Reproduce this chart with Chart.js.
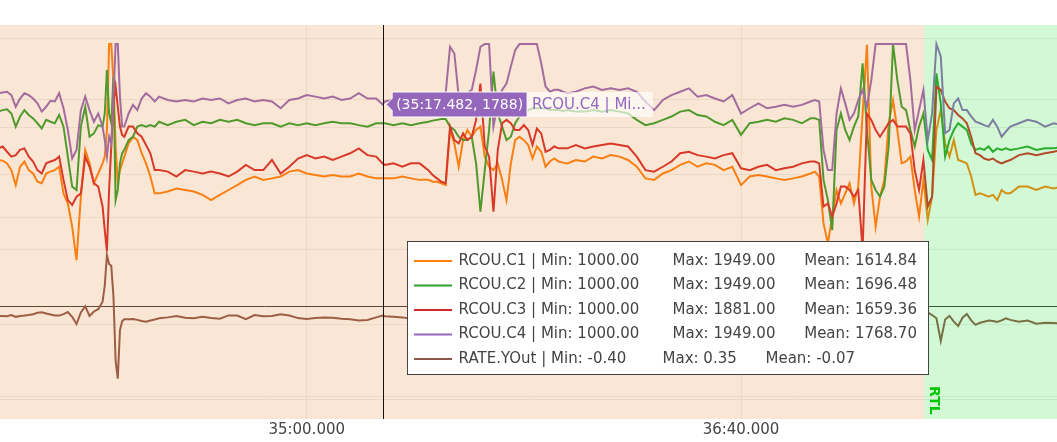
<!DOCTYPE html>
<html><head><meta charset="utf-8">
<script src="https://cdn.jsdelivr.net/npm/chart.js@4.4.1/dist/chart.umd.min.js"></script>
<style>
html,body{margin:0;padding:0;background:#fff;overflow:hidden}
canvas{display:block}
</style></head><body>
<canvas id="c" width="1057" height="442"></canvas>
<script>
// ---- data (time in seconds of log) ----
const times = [
 2029,2030,2031,2032,2033,2034,2035,2036,2037,2038,2039,2040,2041,2042,2043,2044,2045,2046,2047,2048,2049,2050,2051,2052,2053,
 2053.5,2054,2054.5,2055,2055.5,2056,2056.5,2057,2057.5,
 2058,2059,2060,2061,2062,2063,2064,2065,2066,
 2068,2070,2072,2074,2076,2078,2080,2082,2084,2086,2088,2090,
 2092,2094,2096,2098,2100,2102,2104,2106,2108,2110,2112,2114,2116,
 2117.482,
 2118,2120,2122,2124,2126,2128,
 2129,2130,2131,2132,2133,2134,2135,2136,2137,2138,
 2139,2140,2141,2142,2143,2144,2145,2146,2147,2148,
 2149,2150,2151,2152,2153,2154,2155,2156,2157,2158,
 2159,2160,
 2162,2164,2166,2168,2170,2172,2174,2176,2178,2180,
 2182,2184,2186,2188,2190,2192,2194,2196,2198,2200,
 2202,2204,2206,2208,2210,2212,2214,2216,
 2217,2218,2219,2220,2221,2222,2223,2224,2225,2226,
 2227,2228,2229,2230,2231,2232,2233,2234,2235,2236,
 2237,2238,2239,2240,2241,2242,2243,2244,2245,2246,
 2247,2248,2249,2250,2251,2252,2253,2254,2255,2256,
 2257,2258,2259,2260,2261,2262,
 2264,2266,2268,2270,2272,2274
];
const rcouC1 = [
 1640,1638,1631,1613,1573,1622,1636,1613,1604,1582,1578,1604,1609,1613,1622,1551,1524,1462,1373,1542,1667,1631,1578,1604,1631,
 1649,1720,1949,1949,1853,1676,1578,1613,1631,
 1649,1684,1702,1693,1658,1631,1596,1551,1551,
 1556,1564,1560,1556,1547,1533,1547,1560,1573,1587,1596,1587,
 1591,1596,1609,1613,1604,1600,1596,1600,1596,1596,1604,1596,1591,
 1591,
 1591,1591,1596,1591,1587,1587,
 1582,1582,1578,1573,1720,1684,1622,1693,1720,1702,
 1720,1729,1649,1622,1613,1631,1587,1533,1631,1693,
 1702,1693,1680,1644,1676,1662,1622,1636,1644,1636,
 1633,1631,
 1640,1636,1649,1644,1653,1649,1640,1622,1591,1587,
 1604,1613,1627,1636,1622,1631,1627,1613,1622,1573,
 1596,1600,1596,1591,1587,1591,1596,1604,
 1609,1596,1471,1418,1489,1560,1524,1551,1578,1524,
 1569,1764,1947,1569,1462,1542,1587,1738,1800,1720,
 1631,1636,1649,1560,1489,1587,1480,1542,1720,1773,
 1684,1649,1693,1640,1636,1631,1596,1547,1551,1547,
 1542,1547,1533,1560,1551,1551,
 1569,1569,1560,1569,1564,1569
];
const rcouC2 = [
 1769,1773,1775,1764,1729,1756,1773,1760,1751,1738,1724,1747,1742,1738,1760,1729,1649,1569,1560,1729,1782,1702,1711,1733,1729,
 1764,1880,1764,1738,1862,1533,1560,1631,1658,
 1667,1693,1702,1729,1733,1729,1733,1729,1742,
 1733,1742,1747,1733,1742,1738,1747,1742,1747,1738,1733,1738,
 1738,1729,1738,1733,1738,1733,1738,1742,1738,1738,1733,1729,1738,
 1738,
 1738,1733,1738,1733,1738,1742,
 1745,1747,1749,1749,1729,1720,1702,1693,1693,1702,
 1631,1502,1613,1720,1876,1764,1729,1693,1702,1738,
 1756,1769,1773,1778,1778,1778,1778,1773,1773,1773,
 1771,1773,
 1769,1769,1773,1769,1773,1769,1764,1747,1733,1738,
 1747,1756,1769,1773,1760,1756,1742,1733,1747,1707,
 1738,1742,1747,1742,1751,1747,1738,1751,
 1751,1747,1587,1533,1453,1720,1764,1720,1693,1729,
 1756,1898,1720,1587,1560,1542,1569,1676,1949,1853,
 1782,1773,1720,1676,1729,1764,1667,1640,1871,1791,
 1649,1693,1720,1738,1729,1720,1684,1667,1671,1667,
 1676,1662,1671,1667,1671,1667,
 1671,1676,1667,1671,1671,1676
];
const rcouC3 = [
 1671,1676,1662,1649,1653,1667,1671,1649,1636,1613,1604,1631,1636,1640,1649,1587,1533,1520,1542,1551,1649,1622,1578,1569,1516,
 1453,1396,1560,1676,1791,1836,1782,1729,1707,
 1702,1729,1729,1711,1702,1680,1658,1613,1613,
 1609,1596,1613,1609,1604,1609,1604,1596,1609,1627,1613,1613,
 1640,1604,1622,1644,1653,1644,1649,1640,1649,1658,1671,1653,1649,
 1631,
 1627,1631,1622,1631,1631,1613,
 1600,1591,1582,1578,1729,1693,1684,1711,1693,1702,
 1747,1844,1676,1649,1502,1667,1738,1747,1738,1720,
 1720,1733,1720,1680,1724,1711,1662,1667,1676,1671,
 1671,1671,
 1680,1671,1676,1680,1684,1680,1676,1649,1613,1609,
 1622,1636,1658,1662,1653,1649,1644,1653,1658,1618,
 1613,1622,1627,1613,1618,1622,1631,1636,
 1636,1631,1516,1524,1489,1524,1569,1569,1560,1542,
 1560,1400,1764,1747,1720,1702,1720,1738,1747,1729,
 1729,1729,1711,1613,1560,1640,1516,1542,1836,1827,
 1796,1778,1773,1760,1751,1738,1702,1658,1653,1644,
 1640,1644,1636,1631,1636,1640,
 1653,1658,1653,1658,1662,1667
];
const rcouC4 = [
 1818,1820,1822,1813,1782,1804,1818,1813,1804,1791,1769,1782,1798,1796,1818,1778,1720,1644,1667,1773,1809,1773,1742,1764,1729,
 1693,1649,1702,1684,1809,1949,1949,1809,1729,
 1729,1764,1787,1773,1804,1818,1809,1796,1809,
 1800,1796,1800,1796,1804,1800,1804,1791,1800,1804,1796,1800,
 1796,1778,1800,1804,1813,1809,1804,1809,1800,1804,1818,1804,1804,
 1788,
 1796,1800,1804,1804,1800,1804,
 1804,1809,1813,1818,1942,1924,1809,1818,1818,1827,
 1880,1942,1949,1949,1729,1791,1827,1844,1889,1933,
 1949,1949,1949,1949,1949,1898,1836,1822,1827,1827,
 1822,1818,
 1822,1831,1836,1827,1831,1827,1831,1822,1796,1773,
 1800,1813,1822,1831,1809,1813,1804,1796,1813,1764,
 1778,1791,1778,1782,1787,1782,1787,1796,
 1800,1796,1667,1613,1613,1764,1831,1791,1747,1764,
 1800,1827,1782,1853,1949,1949,1949,1949,1949,1949,
 1949,1949,1853,1720,1773,1827,1693,1764,1949,1916,
 1711,1720,1791,1804,1773,1773,1756,1742,1738,1733,
 1729,1747,1729,1702,1716,1729,
 1738,1747,1742,1729,1738,1733
];
const rateYOut = [
 -0.050,-0.050,-0.052,-0.045,-0.055,-0.050,-0.048,-0.045,-0.040,-0.032,-0.030,-0.036,-0.042,-0.047,-0.048,-0.040,-0.028,-0.055,-0.095,-0.030,0.004,-0.050,-0.025,-0.012,0.030,
 0.12,0.29,0.24,0.23,0.06,-0.30,-0.40,-0.13,-0.08,
 -0.068,-0.068,-0.067,-0.072,-0.078,-0.082,-0.075,-0.070,-0.063,
 -0.058,-0.050,-0.060,-0.063,-0.055,-0.062,-0.065,-0.047,-0.048,-0.068,-0.045,-0.052,
 -0.050,-0.040,-0.048,-0.062,-0.067,-0.062,-0.058,-0.060,-0.065,-0.068,-0.075,-0.072,-0.058,
 -0.048,
 -0.052,-0.055,-0.058,-0.065,-0.060,-0.062,
 -0.060,-0.058,-0.062,-0.050,0.020,-0.080,-0.120,-0.040,-0.060,-0.030,
 0.050,-0.150,-0.020,0.080,-0.180,-0.050,-0.090,-0.030,-0.060,-0.070,
 -0.050,-0.060,-0.080,-0.040,-0.070,-0.100,-0.060,-0.055,-0.060,-0.065,
 -0.060,-0.058,
 -0.062,-0.060,-0.058,-0.063,-0.060,-0.057,-0.065,-0.080,-0.070,-0.055,
 -0.050,-0.058,-0.062,-0.066,-0.060,-0.058,-0.064,-0.070,-0.075,-0.060,
 -0.055,-0.060,-0.065,-0.062,-0.060,-0.058,-0.063,-0.060,
 -0.060,-0.062,-0.100,-0.150,-0.050,0.020,-0.080,-0.060,-0.040,-0.070,
 -0.090,0.100,-0.120,-0.050,-0.030,-0.080,-0.060,-0.040,-0.070,-0.050,
 -0.060,-0.090,-0.050,-0.040,-0.060,-0.050,-0.030,-0.045,-0.063,-0.190,
 -0.070,-0.050,-0.082,-0.106,-0.060,-0.039,-0.075,-0.100,-0.088,-0.082,
 -0.076,-0.078,-0.084,-0.075,-0.063,-0.072,
 -0.082,-0.076,-0.093,-0.088,-0.090,-0.091
];
const seriesNames = ['RCOU.C1','RCOU.C2','RCOU.C3','RCOU.C4','RATE.YOut'];
const statMin  = ['1000.00','1000.00','1000.00','1000.00','-0.40'];
const statMax  = ['1949.00','1949.00','1881.00','1949.00','0.35'];
const statMean = ['1614.84','1696.48','1659.36','1768.70','-0.07'];
const xTicks  = [2100, 2200];
const y1Ticks = [1000, 1200, 1400, 1600, 1800];
const y2Ticks = [-0.5, 0, 0.5, 1, 1.5];
const modeNames  = ['', 'RTL'];
const modeStarts = [2029.38, 2242.2];
const hoverTime = 2117.482, hoverValue = 1788, hoverSeries = 3;

// ---- styles / layout ----
const colors = ['#ff7f0e','#2ca02c','#d62728','#9467bd','#8c564b'];
const modeColors = ['rgba(225,130,40,0.2)','rgba(35,220,45,0.2)'];
const FONT = '"DejaVu Sans", Verdana, sans-serif';
const legendCols = [[458.6,672.6,804.2],[458.6,672.6,804.2],[458.6,672.6,804.2],[458.6,672.6,804.2],[458.6,662.5,765.5]];
Chart.defaults.font.family = FONT;

function fmtTime(t){ const m=Math.floor(t/60); const s=t-m*60; return m+':'+s.toFixed(3).padStart(6,'0'); }

const seriesValues = [rcouC1, rcouC2, rcouC3, rcouC4, rateYOut];
const datasets = seriesValues.map((vals,i)=>({
  label: seriesNames[i],
  data: times.map((t,k)=>({x:t, y:vals[k]})),
  borderColor: colors[i], backgroundColor: colors[i],
  borderWidth: 2, pointRadius: 0, tension: 0, fill:false,
  yAxisID: i===4 ? 'y2' : 'y',
  order: 5-i
}));

const extras = {
  id:'extras',
  afterDatasetsDraw(chart){
    const {ctx, chartArea:a, scales:{x}} = chart;
    ctx.save();
    ctx.beginPath(); ctx.rect(a.left,a.top,a.width,a.height); ctx.clip();
    for (let i=0;i<modeStarts.length;i++){
      const x0 = Math.max(a.left, x.getPixelForValue(modeStarts[i]));
      const x1 = i+1<modeStarts.length ? x.getPixelForValue(modeStarts[i+1]) : a.right;
      ctx.fillStyle = modeColors[i];
      ctx.fillRect(x0, a.top, x1-x0, a.height);
    }
    ctx.restore();
  },
  afterDraw(chart){
    const {ctx, chartArea:a, scales:{x, y}} = chart;
    ctx.save();
    // mode labels
    for (let i=0;i<modeStarts.length;i++){
      if(!modeNames[i]) continue;
      const px = x.getPixelForValue(modeStarts[i]) + 6;
      ctx.save();
      ctx.translate(px, a.bottom - 33);
      ctx.rotate(Math.PI/2);
      ctx.font = 'bold 14px ' + FONT;
      ctx.fillStyle = '#00c800';
      ctx.textBaseline = 'alphabetic';
      ctx.fillText(modeNames[i], 0, 0);
      ctx.restore();
    }
    // crosshair
    const hx = Math.round(x.getPixelForValue(hoverTime)) + 0.5;
    ctx.strokeStyle = '#111'; ctx.lineWidth = 1;
    ctx.beginPath(); ctx.moveTo(hx, a.top); ctx.lineTo(hx, a.bottom); ctx.stroke();

    // legend
    const L = {x:407.5, y:241.5, w:521, h:133};
    ctx.fillStyle = '#fff'; ctx.fillRect(L.x, L.y, L.w, L.h);
    ctx.strokeStyle = '#444'; ctx.lineWidth = 1; ctx.strokeRect(L.x, L.y, L.w, L.h);
    ctx.font = '15px ' + FONT; ctx.textBaseline = 'middle'; ctx.textAlign = 'left';
    for (let i=0;i<seriesNames.length;i++){
      const cy = 261 + i*24.5;
      ctx.strokeStyle = colors[i]; ctx.lineWidth = 2;
      ctx.beginPath(); ctx.moveTo(414, cy); ctx.lineTo(452, cy); ctx.stroke();
      ctx.fillStyle = '#444';
      const parts = [seriesNames[i]+' | Min: '+statMin[i], 'Max: '+statMax[i], 'Mean: '+statMean[i]];
      parts.forEach((p,k)=>{ ctx.fillText(p, legendCols[i][k], cy); });
    }

    // hover label
    const px = x.getPixelForValue(hoverTime), py = y.getPixelForValue(hoverValue);
    const txt = '(' + fmtTime(hoverTime) + ', ' + hoverValue + ')';
    ctx.font = '14px ' + FONT;
    const tw = ctx.measureText(txt).width;
    const bx0 = px + 9.5, bx1 = bx0 + tw + 8, by0 = py - 12.5, by1 = py + 12.5;
    ctx.beginPath();
    ctx.moveTo(px + 3.5, py); ctx.lineTo(bx0, py - 6); ctx.lineTo(bx0, by0); ctx.lineTo(bx1, by0);
    ctx.lineTo(bx1, by1); ctx.lineTo(bx0, by1); ctx.lineTo(bx0, py + 6); ctx.closePath();
    ctx.fillStyle = colors[hoverSeries]; ctx.fill();
    ctx.strokeStyle = '#fff'; ctx.lineWidth = 1; ctx.stroke();
    ctx.fillStyle = '#fff'; ctx.fillText(txt, bx0 + 4, py + 0.5);
    const name = seriesNames[hoverSeries] + ' | Mi...';
    ctx.font = '15px ' + FONT;
    const nw = ctx.measureText(name).width;
    ctx.fillStyle = 'rgba(255,255,255,0.65)';
    ctx.fillRect(bx1, by0, nw + 12, by1 - by0);
    ctx.fillStyle = colors[hoverSeries];
    ctx.fillText(name, bx1 + 5, py + 0.5);
    ctx.restore();
  }
};

new Chart(document.getElementById('c'), {
  type: 'line',
  data: { datasets },
  options: {
    responsive: false, animation: false,
    layout: { padding: { top: 25, left: 0, right: 0, bottom: 0 } },
    plugins: { legend: { display: false }, tooltip: { enabled: false } },
    scales: {
      x: {
        type: 'linear', min: 2029.38, max: 2272.76,
        afterBuildTicks: s => { s.ticks = xTicks.map(v=>({value:v})); },
        afterFit: s => { s.height = 23; },
        ticks: { callback: v => fmtTime(v), color: '#444', font: { size: 15 }, padding: 2, maxRotation: 0, autoSkip: false },
        grid: { color: '#eeeeee', drawTicks: false }, border: { display: false }
      },
      y: {
        type: 'linear', position: 'left', min: 949.33, max: 2000,
        afterBuildTicks: s => { s.ticks = y1Ticks.map(v=>({value:v})); },
        afterFit: s => { s.width = 0; },
        ticks: { display: false }, grid: { color: '#eeeeee', drawTicks: false }, border: { display: false }
      },
      y2: {
        type: 'linear', position: 'right', min: -0.6257, max: 1.5754,
        afterBuildTicks: s => { s.ticks = y2Ticks.map(v=>({value:v})); },
        afterFit: s => { s.width = 0; },
        ticks: { display: false },
        grid: { color: c => (c.tick && c.tick.value === 0) ? '#3a3a3a' : '#eeeeee', drawTicks: false },
        border: { display: false }
      }
    }
  },
  plugins: [extras]
});
</script>
</body></html>
